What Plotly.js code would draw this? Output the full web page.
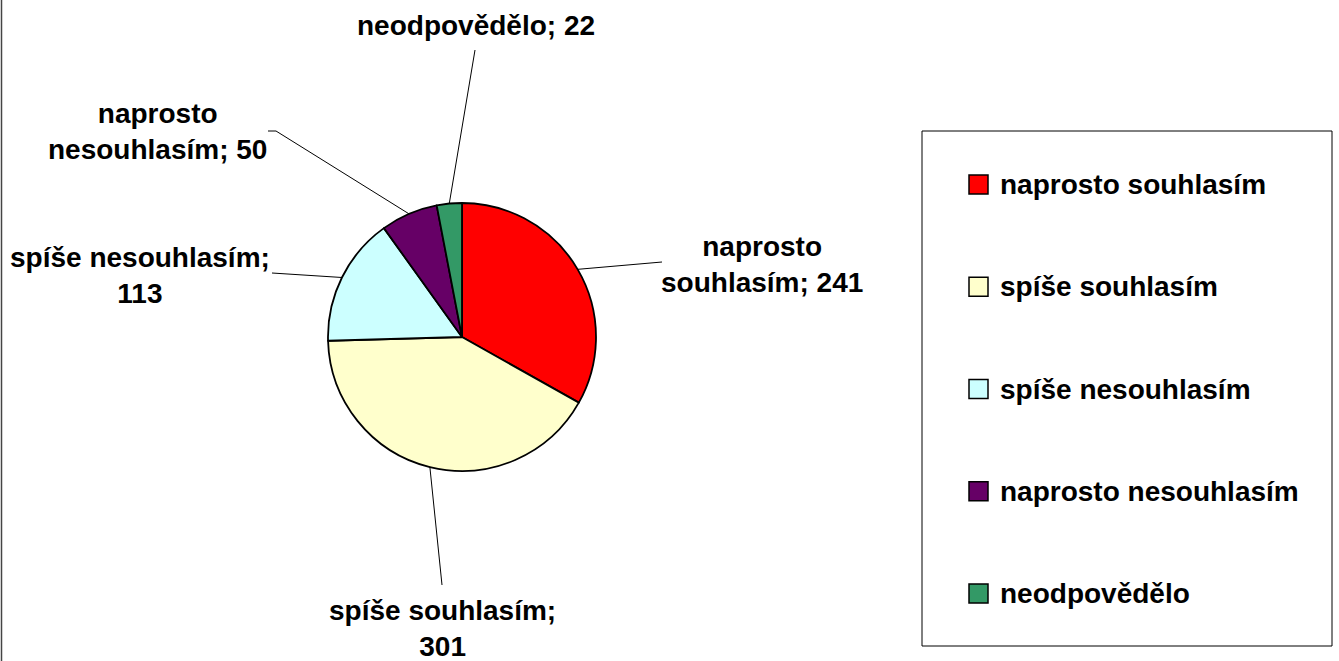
<!DOCTYPE html>
<html>
<head>
<meta charset="utf-8">
<script src="https://cdn.plot.ly/plotly-3.0.1.min.js"></script>
<style>html,body{margin:0;padding:0;background:#fff;}#chart{width:1339px;height:661px;}</style>
</head>
<body>
<div id="chart"></div>
<script>
// ---- data ----
const categories = ['naprosto souhlasím', 'spíše souhlasím', 'spíše nesouhlasím', 'naprosto nesouhlasím', 'neodpovědělo'];
const values = [241, 301, 113, 50, 22];
const colors = ['#FF0000', '#FFFFCC', '#CCFFFF', '#660066', '#339966'];

// ---- layout (pixels) ----
const W = 1339, H = 661;
const CX = 462, CY = 337, R = 134;
const labelCenters = [[762, 265], [442, 628], [140, 275], [157, 132], [476, 25]];
const leaderEnds = [[662, 262], [442, 585], [272, 273], [276, 131], [475, 50]];
const labelBreak = ['space', 'value', 'value', 'space', 'none'];
const LEG = {x0: 922, y0: 131, x1: 1332, y1: 646, firstY: 184.5, step: 102.25, sqX: 969, sq: 19, textX: 998};

const px = x => x / W;
const py = y => 1 - y / H;
const FONT = {family: 'Liberation Sans, Arial, sans-serif', size: 28, color: '#000', weight: 'bold'};

function labelText(i) {
  const cat = categories[i], v = values[i];
  if (labelBreak[i] === 'space') {
    const k = cat.indexOf(' ');
    return cat.slice(0, k) + '<br>' + cat.slice(k + 1) + '; ' + v;
  }
  if (labelBreak[i] === 'value') return cat + ';<br>' + v;
  return cat + '; ' + v;
}

const total = values.reduce((a, b) => a + b, 0);
const shapes = [];
const annotations = [];
let cum = 0;
values.forEach((v, i) => {
  const th = 2 * Math.PI * (cum + v / 2) / total;
  cum += v;
  const ex = CX + R * Math.sin(th), ey = CY - R * Math.cos(th);
  const [lx, ly] = leaderEnds[i];
  shapes.push({type: 'line', xref: 'paper', yref: 'paper', x0: px(ex), y0: py(ey), x1: px(lx), y1: py(ly),
               line: {color: '#000', width: 1}});
  if (i === 3) {
    shapes.push({type: 'line', xref: 'paper', yref: 'paper', x0: px(lx), y0: py(ly), x1: px(lx - 8), y1: py(ly),
                 line: {color: '#000', width: 1}});
  }
  annotations.push({xref: 'paper', yref: 'paper', x: px(labelCenters[i][0]), y: py(labelCenters[i][1]),
                    xanchor: 'center', yanchor: 'middle', showarrow: false, align: 'center',
                    text: labelText(i), font: FONT});
});

// legend box
shapes.push({type: 'rect', xref: 'paper', yref: 'paper', x0: px(LEG.x0), y0: py(LEG.y0), x1: px(LEG.x1), y1: py(LEG.y1),
             line: {color: '#000', width: 1}, fillcolor: 'rgba(0,0,0,0)'});
categories.forEach((c, i) => {
  const yc = LEG.firstY + i * LEG.step;
  shapes.push({type: 'rect', xref: 'paper', yref: 'paper',
               x0: px(LEG.sqX), x1: px(LEG.sqX + LEG.sq), y0: py(yc - LEG.sq / 2), y1: py(yc + LEG.sq / 2),
               line: {color: '#000', width: 1.5}, fillcolor: colors[i]});
  annotations.push({xref: 'paper', yref: 'paper', x: px(LEG.textX), y: py(yc), xanchor: 'left', yanchor: 'middle',
                    showarrow: false, text: c, font: FONT});
});

// outer chart frame (left edge visible)
shapes.push({type: 'line', xref: 'paper', yref: 'paper', x0: px(1.5), x1: px(1.5), y0: 0, y1: 1,
             line: {color: '#444', width: 1.5}});

const trace = {
  type: 'pie',
  values: values,
  labels: categories,
  sort: false,
  direction: 'clockwise',
  rotation: 0,
  textinfo: 'none',
  hoverinfo: 'label+value+percent',
  showlegend: false,
  marker: {colors: colors, line: {color: '#000', width: 1.8}},
  domain: {x: [px(CX - R), px(CX + R)], y: [py(CY + R), py(CY - R)]}
};

const layout = {
  width: W, height: H,
  margin: {l: 0, r: 0, t: 0, b: 0},
  paper_bgcolor: '#fff',
  showlegend: false,
  shapes: shapes,
  annotations: annotations
};

Plotly.newPlot('chart', [trace], layout, {displayModeBar: false, staticPlot: true});
</script>
</body>
</html>
